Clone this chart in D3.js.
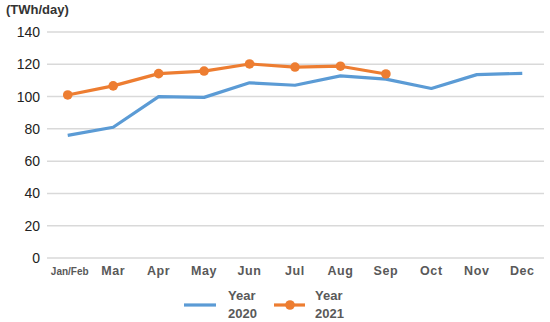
<!DOCTYPE html>
<html>
<head>
<meta charset="utf-8">
<script src="https://cdn.jsdelivr.net/npm/d3@7"></script>
<style>
  body { margin: 0; background: #fff; }
  text { font-family: "Liberation Sans", Arial, sans-serif; }
</style>
</head>
<body>
<svg id="chart" width="550" height="322"></svg>
<script>
const months = ['Jan/Feb', 'Mar', 'Apr', 'May', 'Jun', 'Jul', 'Aug', 'Sep', 'Oct', 'Nov', 'Dec'];
const year2020 = [76, 81, 100, 99.5, 108.5, 107, 112.8, 110.8, 105, 113.6, 114.4];
const year2021 = [101, 106.6, 114.2, 115.8, 120.2, 118.3, 118.8, 114];
const yTicks = [0, 20, 40, 60, 80, 100, 120, 140];

const svg = d3.select('#chart');
const plotL = 45, plotR = 545, plotT = 32, plotB = 258;

const x = d3.scalePoint().domain(months).range([plotL, plotR]).padding(0.5);
const y = d3.scaleLinear().domain([0, 140]).range([plotB, plotT]);

// grid
svg.append('g')
  .selectAll('line')
  .data(yTicks)
  .enter()
  .append('line')
  .attr('x1', 47).attr('x2', 544)
  .attr('y1', d => y(d)).attr('y2', d => y(d))
  .attr('stroke', '#d9d9d9')
  .attr('stroke-width', 1.5);

// y labels
svg.append('g')
  .selectAll('text')
  .data(yTicks)
  .enter()
  .append('text')
  .attr('x', 40)
  .attr('y', d => y(d) + 5)
  .attr('text-anchor', 'end')
  .attr('font-size', 14)
  .attr('fill', '#222')
  .text(d => d);

svg.append('text')
  .attr('x', 6).attr('y', 14)
  .attr('font-size', 13)
  .attr('font-weight', 'bold')
  .attr('fill', '#333')
  .text('(TWh/day)');

// x labels
svg.append('g')
  .selectAll('text')
  .data(months)
  .enter()
  .append('text')
  .attr('x', d => x(d) + (d === 'Jan/Feb' ? 2 : 0))
  .attr('y', 275)
  .attr('text-anchor', 'middle')
  .attr('font-size', d => d === 'Jan/Feb' ? 10 : 12.5)
  .attr('font-weight', 'bold')
  .attr('fill', '#595959')
  .attr('letter-spacing', d => d === 'Jan/Feb' ? 0 : 0.6)
  .text(d => d);

const line = d3.line()
  .x((d, i) => x(months[i]))
  .y(d => y(d));

const blue = '#5b9bd5', orange = '#ed7d31';

svg.append('path')
  .datum(year2020)
  .attr('d', line)
  .attr('fill', 'none')
  .attr('stroke', blue)
  .attr('stroke-width', 3.2)
  .attr('stroke-linejoin', 'round');

svg.append('path')
  .datum(year2021)
  .attr('d', line)
  .attr('fill', 'none')
  .attr('stroke', orange)
  .attr('stroke-width', 3.2)
  .attr('stroke-linejoin', 'round');

svg.append('g')
  .selectAll('circle')
  .data(year2021)
  .enter()
  .append('circle')
  .attr('cx', (d, i) => x(months[i]))
  .attr('cy', d => y(d))
  .attr('r', 4.8)
  .attr('fill', orange);

// legend
const legend = svg.append('g');
legend.append('line')
  .attr('x1', 184).attr('x2', 216).attr('y1', 305).attr('y2', 305)
  .attr('stroke', blue).attr('stroke-width', 3.2);
legend.append('line')
  .attr('x1', 274).attr('x2', 305).attr('y1', 305).attr('y2', 305)
  .attr('stroke', orange).attr('stroke-width', 3.2);
legend.append('circle')
  .attr('cx', 290).attr('cy', 305).attr('r', 4.8).attr('fill', orange);

[[228, 'Year', '2020'], [315, 'Year', '2021']].forEach(([lx, a, b]) => {
  const t = legend.append('text')
    .attr('font-size', 13)
    .attr('font-weight', 'bold')
    .attr('fill', '#595959');
  t.append('tspan').attr('x', lx).attr('y', 300).text(a);
  t.append('tspan').attr('x', lx).attr('y', 318).text(b);
});
</script>
</body>
</html>
